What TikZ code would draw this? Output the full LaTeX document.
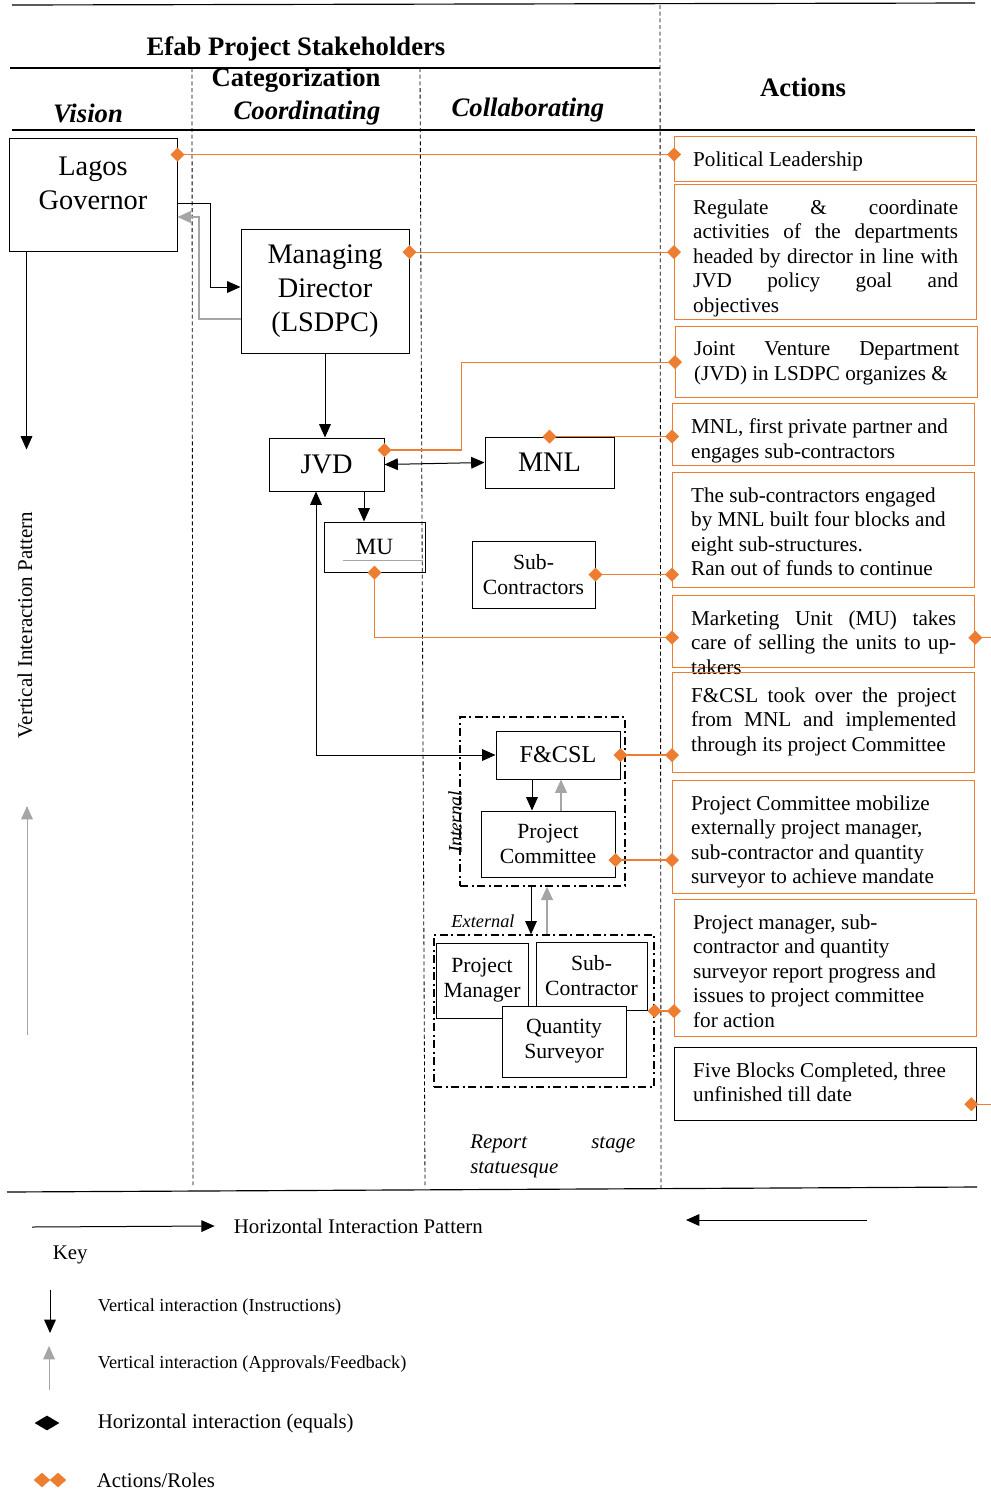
\documentclass[tikz,border=0pt]{standalone}
\usepackage{fontspec}
\setmainfont{Liberation Serif}
\usetikzlibrary{arrows.meta, calc, shapes.geometric}
\definecolor{roleOrange}{RGB}{237, 125, 49}
\definecolor{fbGray}{RGB}{165, 165, 165}
\newcommand{\actpar}[2]{\parbox[t][#1][t]{159pt}{#2}}

\begin{document}
\begin{tikzpicture}[x=0.6pt, y=-0.6pt,
    box/.style={draw, line width=0.6pt, inner sep=0pt, align=center},
    bigtxt/.style={font=\fontsize{17}{20.4}\selectfont},
    midtxt/.style={font=\fontsize{13}{15}\selectfont},
    act/.style={draw=roleOrange, line width=0.8pt, anchor=north west,
      inner xsep=11.1pt, inner ysep=9pt, font=\fontsize{12.7}{14.7}\selectfont},
    head/.style={font=\fontsize{16}{19}\selectfont\bfseries},
    headit/.style={font=\fontsize{16}{19}\selectfont\bfseries\itshape},
    instr/.style={line width=0.6pt, -{Triangle[length=8pt, width=7pt]}},
    both/.style={line width=0.6pt, {Triangle[length=8pt, width=7pt]}-{Triangle[length=8pt, width=7pt]}},
    fback/.style={draw=fbGray, line width=1.2pt, -{Triangle[length=8pt, width=7pt]}},
    role/.style={draw=roleOrange, line width=0.8pt,
      {Diamond[length=8.4pt, width=8.4pt]}-{Diamond[length=8.4pt, width=8.4pt]},
      shorten <=-4.2pt, shorten >=-4.2pt},
    rolestart/.style={draw=roleOrange, line width=0.8pt,
      {Diamond[length=8.4pt, width=8.4pt]}-, shorten <=-4.2pt},
    grp/.style={draw, line width=0.8pt, inner sep=0pt,
      dash pattern=on 5pt off 2pt on 1.2pt off 2pt},
    colline/.style={line width=0.5pt, dash pattern=on 2.4pt off 1.6pt},
    keytxt/.style={anchor=west, font=\fontsize{12.5}{14}\selectfont},
    keysmall/.style={anchor=west, font=\fontsize{11}{13}\selectfont}]
  \useasboundingbox (0,0) rectangle (990,1490);

  % table frame
  \draw[line width=0.7pt] (12,5) -- (975,3);
  \draw[line width=0.7pt] (10,68) -- (660,68);
  \draw[line width=0.7pt] (12,130) -- (975,130);
  \draw[line width=0.7pt] (7,1192) -- (977,1187);
  \draw[colline] (192,68) -- (193,1185);
  \draw[colline] (420,68) -- (425,1188);
  \draw[colline] (660,5) -- (661,1188);

  % headings
  \node[head] (title) at (296,49) {Efab Project Stakeholders};
  \node[head] (categ) at (296,80) {Categorization};
  \node[headit] (vision) at (88,113) {Vision};
  \node[headit] (coord) at (307,113) {Coordinating};
  \node[headit] (collab) at (528,110) {Collaborating};
  \node[head] (actions) at (803,87) {Actions};

  % stakeholders
  \node[box, minimum width=100.8pt, minimum height=67.8pt] (gov) at (93,194.5) {};
  \node[bigtxt, align=center] (govLbl) at (93,183) {Lagos\\Governor};
  \node[box, bigtxt, minimum width=100.8pt, minimum height=74.4pt] (md) at (325,291) {Managing\\Director\\(LSDPC)};
  \node[box, bigtxt, minimum width=69pt, minimum height=31.8pt] (jvd) at (326.5,464.5) {JVD};
  \node[box, bigtxt, minimum width=77.4pt, minimum height=30.6pt] (mnl) at (549.5,462.5) {MNL};
  \node[box, font=\fontsize{14}{16}\selectfont, minimum width=60.6pt, minimum height=30pt] (mu) at (374.5,547) {MU};
  \draw[fbGray, line width=0.5pt] ($(mu.south west)+(19,-12)$) -- ($(mu.south east)+(-3,-12)$);
  \node[box, midtxt, minimum width=73.8pt, minimum height=40.2pt] (subc) at (533.5,574.5) {Sub-\\Contractors};

  \node[grp, minimum width=99pt, minimum height=101.4pt] (intBox) at (542.5,801.5) {};
  \node[font=\fontsize{11.5}{13}\selectfont\itshape, rotate=90] (intLbl) at (455,822) {Internal};
  \node[box, font=\fontsize{14.5}{17}\selectfont, minimum width=74.4pt, minimum height=28.8pt] (fcsl) at (558,755) {F\&CSL};
  \node[box, midtxt, minimum width=80.4pt, minimum height=39.6pt] (pc) at (548,844) {Project\\Committee};

  \node[grp, minimum width=132pt, minimum height=91.2pt] (extBox) at (544,1011) {};
  \node[font=\fontsize{11}{13}\selectfont\itshape] (extLbl) at (483,921) {External};
  \node[box, midtxt, minimum width=55.2pt, minimum height=45pt] (pm) at (482,980.5) {Project\\Manager};
  \node[box, midtxt, minimum width=66.6pt, minimum height=40.8pt] (sc) at (591.5,976) {Sub-\\Contractor};
  \node[box, midtxt, fill=white, minimum width=74.4pt, minimum height=42.6pt] (qs) at (564,1041.5) {Quantity\\Surveyor};

  \node[font=\fontsize{12.5}{15}\selectfont\itshape, anchor=north west, inner sep=0pt] (report) at (470,1135)
    {\parbox[t]{99pt}{Report\hfill stage\\statuesque}};

  % actions / roles
  \node[act] (polLead) at (674,136) {\actpar{9pt}{Political Leadership}};
  \node[act] (regulate) at (674,184) {\actpar{63pt}{Regulate \& coordinate\linebreak
    activities of the departments\linebreak headed by director in line with\linebreak
    JVD policy goal and\linebreak objectives}};
  \node[act] (jvdAct) at (675,326) {\actpar{24.6pt}{Joint Venture Department\linebreak
    (JVD) in LSDPC organizes \&}};
  \node[act] (mnlAct) at (672,403) {\actpar{19.2pt}{MNL, first private partner and\\
    engages sub-contractors}};
  \node[act] (subAct) at (672,472) {\actpar{51pt}{The sub-contractors engaged\\
    by MNL built four blocks and\\ eight sub-structures.\\ Ran out of funds to continue}};
  \node[act] (muAct) at (672,595) {\actpar{25.2pt}{Marketing Unit (MU) takes\linebreak
    care of selling the units to up-\linebreak takers}};
  \node[act] (fcslAct) at (672,672) {\actpar{42pt}{F\&CSL took over the project\linebreak
    from MNL and implemented\linebreak through its project Committee}};
  \node[act] (pcAct) at (672,780) {\actpar{49.8pt}{Project Committee mobilize\\
    externally project manager,\\ sub-contractor and quantity\\ surveyor to achieve mandate}};
  \node[act] (pmAct) at (674,899) {\actpar{64.2pt}{Project manager, sub-\\
    contractor and quantity\\ surveyor report progress and\\ issues to project committee\\ for action}};
  \node[act, draw=black] (fiveAct) at (674,1047) {\actpar{25.8pt}{Five Blocks Completed, three\\
    unfinished till date}};

  % vertical and horizontal interaction
  \draw[instr] ($(gov.east)+(0,8.5)$) -- ++(33,0) |- ($(md.west)+(0,-4)$);
  \draw[fback] ($(md.west)+(0,28)$) -- ++(-42,0) |- ($(gov.east)+(0,22.5)$);
  \draw[instr] (md.south) -- (md.south |- jvd.north);
  \draw[both] (jvd.east) -- (mnl.west);
  \coordinate (jvdMu) at ($(jvd.south)+(37.5,0)$);
  \draw[instr] (jvdMu) -- (jvdMu |- mu.north);
  \coordinate (jvdFc) at ($(jvd.south)+(-10.5,0)$);
  \draw[both] (jvdFc) |- (fcsl.west);
  \coordinate (fcDn) at ($(fcsl.south)+(-26,0)$);
  \draw[instr] (fcDn) -- (fcDn |- pc.north);
  \coordinate (pcUp) at ($(pc.north)+(13,0)$);
  \draw[fback] (pcUp) -- (pcUp |- fcsl.south);
  \coordinate (inDn) at ($(intBox.south)+(-11.5,0)$);
  \draw[instr] (inDn) -- (inDn |- extBox.north);
  \coordinate (exUp) at ($(extBox.north)+(3,0)$);
  \draw[fback] (exUp) -- (exUp |- intBox.south);

  % role links
  \coordinate (govR) at ($(gov.north east)+(0,17)$);
  \draw[role] (govR) -- (govR -| polLead.west);
  \draw[role] (md.east |- regulate.west) -- (regulate.west);
  \draw[role] ($(jvd.east)+(0,-14.5)$) -- ++(77,0) |- (jvdAct.west);
  \draw[role] (mnl.north) -- (mnl.north -| mnlAct.west);
  \draw[role] (subc.east) -- (subc.east -| subAct.west);
  \draw[role] (mu.south) |- ($(muAct.west)+(0,6)$);
  \draw[rolestart] ($(muAct.east)+(0,6)$) -- ++(16,0);
  \draw[role] (fcsl.east) -- (fcsl.east -| fcslAct.west);
  \coordinate (pcR) at ($(pc.east)+(0,16)$);
  \draw[role] (pcR) -- (pcR -| pcAct.west);
  \draw[role] (extBox.east) -- (extBox.east -| pmAct.west);
  \draw[rolestart] ($(fiveAct.east)+(-6,20)$) -- ++(20,0);

  % interaction patterns
  \coordinate (vipTop) at ($(gov.south west)+(18,0)$);
  \draw[instr] (vipTop) -- ++(0,198);
  \node[rotate=90, font=\fontsize{12.6}{14}\selectfont] (vipLbl) at (25,625) {Vertical Interaction Pattern};
  \coordinate (vipBot) at (27,1035);
  \draw[fback, line width=0.6pt] (vipBot) -- ++(0,-229);

  \coordinate (hpL) at (32,1227);
  \node[keytxt] (hpLbl) at (228,1226) {Horizontal Interaction Pattern};
  \draw[instr] (hpL) -- ([xshift=-8pt]hpLbl.west);
  \coordinate (hpR) at (867,1220);
  \coordinate (hpRend) at (686,1220);
  \draw[instr] (hpR) -- (hpRend);

  % key
  \node[keytxt] (keyLbl) at (47,1255) {Key};
  \coordinate (kInstrTop) at (50,1290);
  \draw[instr] (kInstrTop) -- ++(0,43);
  \node[keysmall] (kInstr) at (92,1307) {Vertical interaction (Instructions)};
  \coordinate (kApprBot) at (49,1390);
  \draw[fback, line width=0.6pt] (kApprBot) -- ++(0,-44);
  \node[keysmall] (kAppr) at (92,1364) {Vertical interaction (Approvals/Feedback)};
  \node[diamond, fill=black, inner sep=0pt, minimum width=15pt, minimum height=9pt] (kEq) at (47,1423) {};
  \node[keytxt] (kEqLbl) at (92,1423) {Horizontal interaction (equals)};
  \node[diamond, fill=roleOrange, inner sep=0pt, minimum width=10pt, minimum height=9pt] (kRoleA) at (42,1480) {};
  \node[diamond, fill=roleOrange, inner sep=0pt, minimum width=10pt, minimum height=9pt] (kRoleB) at (58,1480) {};
  \node[keytxt] (kRoleLbl) at (91,1480) {Actions/Roles};
\end{tikzpicture}
\end{document}
